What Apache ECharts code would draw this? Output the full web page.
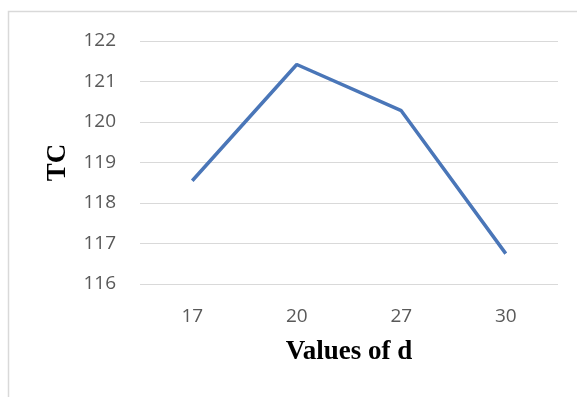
<!DOCTYPE html>
<html><head><meta charset="utf-8">
<script src="https://cdn.jsdelivr.net/npm/echarts@6/dist/echarts.min.js"></script>
<style>html,body{margin:0;padding:0;background:#fff}#c{width:577px;height:397px}</style>
</head><body><div id="c"></div>
<script>
var categories = ['17', '20', '27', '30'];
var tcValues = [118.55, 121.42, 120.28, 116.75];
var chart = echarts.init(document.getElementById('c'));
chart.setOption({
  animation: false,
  graphic: [{type:'rect', shape:{x:8.5,y:11.5,width:600,height:420}, style:{fill:'none', stroke:'#d9d9d9', lineWidth:1.5}}],
  grid: {left:140, right:19, top:41, bottom:113},
  xAxis: {type:'category', data:categories, boundaryGap:true,
    axisLine:{show:false}, axisTick:{show:false},
    axisLabel:{color:'#595959', fontSize:19, fontFamily:'Open Sans', margin:23},
    name:'Values of d', nameLocation:'middle', nameGap:55,
    nameTextStyle:{fontFamily:'Liberation Serif', fontWeight:'bold', fontSize:27, color:'#000'}},
  yAxis: {type:'value', min:116, max:122, interval:1,
    axisLine:{show:false}, axisTick:{show:false},
    splitLine:{lineStyle:{color:'#d9d9d9', width:1}},
    axisLabel:{color:'#595959', fontSize:19, fontFamily:'Open Sans', margin:24},
    name:'TC', nameLocation:'middle', nameGap:68,
    nameTextStyle:{fontFamily:'Liberation Serif', fontWeight:'bold', fontSize:27, color:'#000'}},
  series: [{type:'line', data:tcValues, symbol:'none',
    lineStyle:{color:'#4a76b8', width:3.5}}]
});
</script></body></html>
